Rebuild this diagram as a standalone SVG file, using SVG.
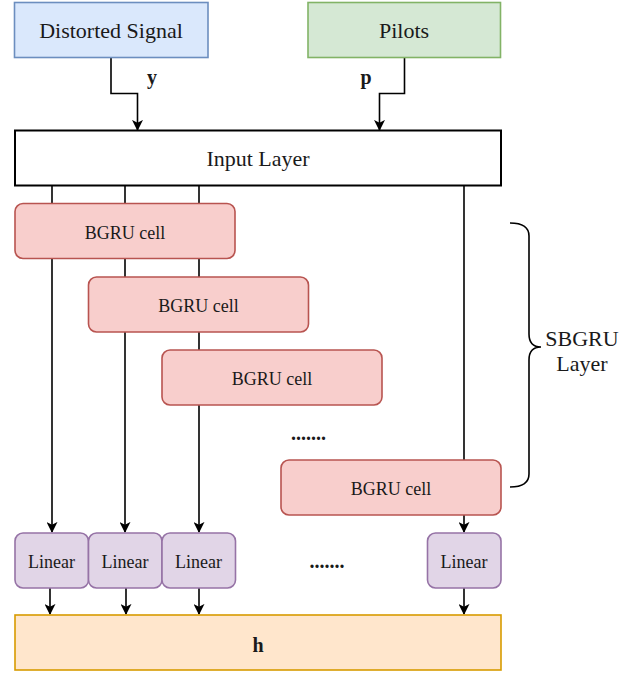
<svg xmlns="http://www.w3.org/2000/svg" width="639" height="673" viewBox="0 0 639 673">
<defs>
<marker id="arr" viewBox="0 0 12 12" refX="11" refY="6" markerWidth="11" markerHeight="11" markerUnits="userSpaceOnUse" orient="auto">
<path d="M0,0 L12,6 L0,12 L3,6 z" fill="#000"/>
</marker>
<style>
text{font-family:'Liberation Serif','Times New Roman',Tinos,'DejaVu Serif',serif;font-weight:400;font-style:normal;fill:#1a1a1a;text-anchor:middle}
.big{font-size:22px}
.mid{font-size:18px}
.b{font-weight:700;font-size:20px}
.conn{fill:none;stroke:#000;stroke-width:1.6}
.blue{fill:#dae8fc;stroke:#6c8ebf;stroke-width:1.6}
.green{fill:#d5e8d4;stroke:#82b366;stroke-width:1.6}
.white{fill:#fff;stroke:#000;stroke-width:2}
.red{fill:#f8cecc;stroke:#b85450;stroke-width:1.6}
.purple{fill:#e1d5e7;stroke:#9673a6;stroke-width:1.6}
.orange{fill:#ffe6cc;stroke:#d79b00;stroke-width:1.6}
</style>
</defs>
<rect width="639" height="673" fill="#fff"/>
<g id="connectors">
<path class="conn" d="M111,57 V93.5 H137.5 V130" marker-end="url(#arr)"/>
<path class="conn" d="M404.5,57 V93.5 H379.5 V130" marker-end="url(#arr)"/>
<path class="conn" d="M52,185 V532" marker-end="url(#arr)"/>
<path class="conn" d="M125,185 V532" marker-end="url(#arr)"/>
<path class="conn" d="M199,185 V532" marker-end="url(#arr)"/>
<path class="conn" d="M464,185 V460"/>
<path class="conn" d="M464,515 V532" marker-end="url(#arr)"/>
<path class="conn" d="M50,588 V614" marker-end="url(#arr)"/>
<path class="conn" d="M126,588 V614" marker-end="url(#arr)"/>
<path class="conn" d="M199,588 V614" marker-end="url(#arr)"/>
<path class="conn" d="M464,588 V614" marker-end="url(#arr)"/>
<text class="b" x="152" y="84" font-family="Liberation Serif, serif">y</text>
<text class="b" x="366" y="84" font-family="Liberation Serif, serif">p</text>
</g>
<g id="distorted-signal">
<rect class="blue" x="14.5" y="2.5" width="193.5" height="55"/>
<text class="big" x="111" y="37.5" font-family="Liberation Serif, serif">Distorted Signal</text>
</g>
<g id="pilots">
<rect class="green" x="308" y="2.5" width="192.5" height="55"/>
<text class="big" x="404" y="37.5" font-family="Liberation Serif, serif">Pilots</text>
</g>
<g id="input-layer">
<rect class="white" x="15" y="130.5" width="486" height="55"/>
<text class="big" x="258" y="166" font-family="Liberation Serif, serif">Input Layer</text>
</g>
<g id="bgru1">
<rect class="red" x="15" y="203.5" width="220" height="55" rx="8"/>
<text class="mid" x="125" y="238.5" font-family="Liberation Serif, serif">BGRU cell</text>
</g>
<g id="bgru2">
<rect class="red" x="88.5" y="277" width="220" height="55" rx="8"/>
<text class="mid" x="198.5" y="311.5" font-family="Liberation Serif, serif">BGRU cell</text>
</g>
<g id="bgru3">
<rect class="red" x="162" y="350" width="220" height="55" rx="8"/>
<text class="mid" x="272" y="385" font-family="Liberation Serif, serif">BGRU cell</text>
</g>
<g id="dots1">
<text class="b" x="308.5" y="440" font-family="Liberation Serif, serif">.......</text>
</g>
<g id="bgru4">
<rect class="red" x="281" y="460" width="220" height="55" rx="8"/>
<text class="mid" x="391" y="494.5" font-family="Liberation Serif, serif">BGRU cell</text>
</g>
<g id="sbgru-brace">
<path class="conn" d="M510,223 Q529,223 529,236 V334 Q529,347 541,347 Q529,347 529,360 V474 Q529,487 510,487"/>
<text class="big" x="582" y="346" font-family="Liberation Serif, serif">SBGRU</text>
<text class="big" x="582" y="371" font-family="Liberation Serif, serif">Layer</text>
</g>
<g id="linear1">
<rect class="purple" x="15" y="533" width="73.5" height="55" rx="8"/>
<text class="mid" x="51.5" y="568" font-family="Liberation Serif, serif">Linear</text>
</g>
<g id="linear2">
<rect class="purple" x="88.5" y="533" width="73.5" height="55" rx="8"/>
<text class="mid" x="125" y="568" font-family="Liberation Serif, serif">Linear</text>
</g>
<g id="linear3">
<rect class="purple" x="162" y="533" width="73.5" height="55" rx="8"/>
<text class="mid" x="198.5" y="568" font-family="Liberation Serif, serif">Linear</text>
</g>
<g id="dots2">
<text class="b" x="327" y="568" font-family="Liberation Serif, serif">.......</text>
</g>
<g id="linear4">
<rect class="purple" x="427.5" y="533" width="73.5" height="55" rx="8"/>
<text class="mid" x="464" y="568" font-family="Liberation Serif, serif">Linear</text>
</g>
<g id="h">
<rect class="orange" x="15" y="615" width="486" height="55"/>
<text class="b" x="258" y="651.5" font-family="Liberation Serif, serif">h</text>
</g>
</svg>
